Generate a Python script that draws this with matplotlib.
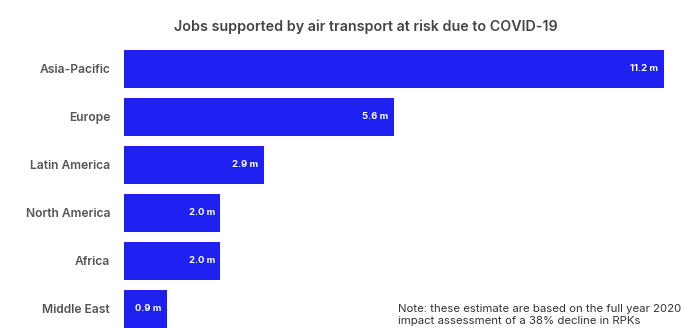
import matplotlib
matplotlib.use("Agg")
import matplotlib.pyplot as plt

categories = ["Asia-Pacific", "Europe", "Latin America", "North America", "Africa", "Middle East"]
values = [11.2, 5.6, 2.9, 2.0, 2.0, 0.9]
value_labels = ["11.2 m", "5.6 m", "2.9 m", "2.0 m", "2.0 m", "0.9 m"]
title = "Jobs supported by air transport at risk due to COVID-19"
note = "Note: these estimate are based on the full year 2020\nimpact assessment of a 38% decline in RPKs"

BLUE = "#1e20f2"
GRAY = "#555555"
FONT = ["Inter", "DejaVu Sans"]

W, H = 685, 328
fig = plt.figure(figsize=(W / 100, H / 100), dpi=100)
fig.patch.set_facecolor("white")

left_px, right_px, top_px = 124, 664, 45
ax = fig.add_axes([left_px / W, 0, (right_px - left_px) / W, (H - top_px) / H])
ypos = list(range(len(categories)))
ax.barh(ypos, values, height=0.8, color=BLUE)
ax.set_xlim(0, 11.2)
ax.set_ylim(5.396, -0.5)
ax.set_yticks(ypos)
ax.set_yticklabels(categories, family=FONT, fontsize=8.7, fontweight="semibold", color=GRAY)
ax.tick_params(axis="y", length=0, pad=10)
ax.set_xticks([])
for s in ax.spines.values():
    s.set_visible(False)

for y, v, lab in zip(ypos, values, value_labels):
    ax.annotate(lab, xy=(v, y), xytext=(-4, 0), textcoords="offset points",
                ha="right", va="center", color="white", fontsize=6.8,
                fontweight="bold", family=FONT)

fig.text(366 / W, 1 - 27 / H, title, ha="center", va="center", family=FONT,
         fontsize=10.3, fontweight="semibold", color="#444444")
fig.text(398 / W, 1 - 315 / H, note, ha="left", va="center", family=FONT,
         fontsize=8.2, color="#333333", linespacing=1.3)

fig.savefig("out.png", dpi=100)
